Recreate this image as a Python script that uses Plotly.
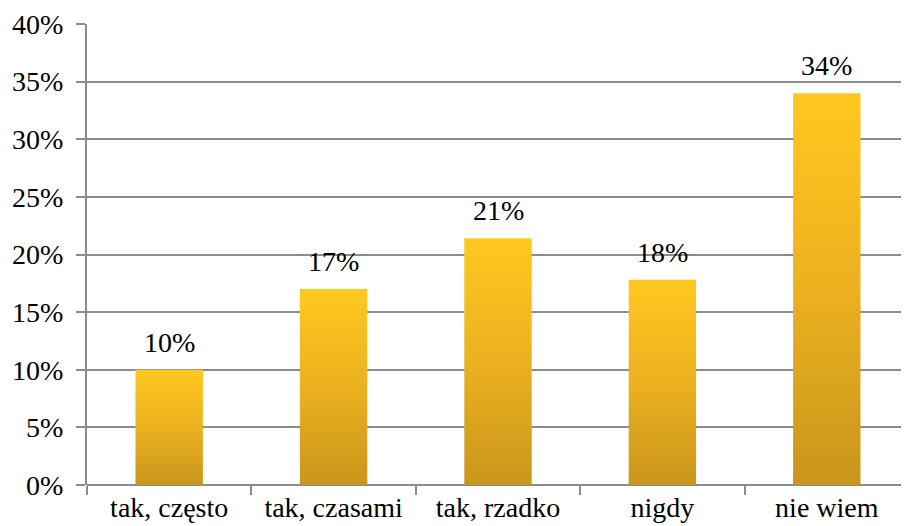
import plotly.graph_objects as go

categories = ["tak, często", "tak, czasami", "tak, rzadko", "nigdy", "nie wiem"]
values = [10.0, 17.0, 21.4, 17.8, 34.0]
labels = ["10%", "17%", "21%", "18%", "34%"]
y_ticks = [0, 5, 10, 15, 20, 25, 30, 35, 40]

FONT = "Liberation Serif"
BAR_W = 0.41

fig = go.Figure()
for i, (cat, v) in enumerate(zip(categories, values)):
    x0, x1 = i - BAR_W / 2, i + BAR_W / 2
    fig.add_trace(go.Scatter(
        x=[x0, x1, x1, x0, x0], y=[0, 0, v, v, 0],
        mode="lines", fill="toself", line=dict(width=0),
        fillgradient=dict(type="vertical",
                          colorscale=[[0, "#C9961C"], [0.5, "#EBB120"], [1, "#FFC820"]]),
        hoverinfo="skip", showlegend=False, name=cat,
    ))
    fig.add_annotation(x=i, y=v, text=labels[i], showarrow=False,
                       yanchor="bottom", yshift=10,
                       font=dict(family=FONT, size=28, color="#000"))

# page body adds an 8px offset; margins compensate for it
fig.update_layout(
    width=909, height=526,
    margin=dict(l=79, r=8, t=16, b=49),
    paper_bgcolor="white", plot_bgcolor="white",
    font=dict(family=FONT, size=28, color="#000"),
    showlegend=False,
)
fig.update_xaxes(
    range=[-0.5, 4.5], tickmode="array", tickvals=list(range(len(categories))),
    ticktext=categories, ticks="", showgrid=False, zeroline=False,
    showline=False, ticklabelstandoff=3, automargin=False,
    minor=dict(tickmode="array", tickvals=[-0.5, 0.5, 1.5, 2.5, 3.5, 4.5],
               ticks="outside", ticklen=9, tickcolor="#8c8c8c", tickwidth=2, showgrid=False),
)
fig.update_yaxes(
    range=[0, 40], tickmode="array", tickvals=y_ticks,
    ticktext=[f"{t}%" for t in y_ticks],
    showgrid=True, gridcolor="#8c8c8c", gridwidth=2,
    showline=True, linecolor="#8c8c8c", linewidth=2,
    ticks="outside", ticklen=9, tickcolor="#8c8c8c", tickwidth=2,
    zeroline=True, zerolinecolor="#8c8c8c", zerolinewidth=2,
    ticklabelstandoff=7, automargin=False,
)
fig.write_html("out.html")
